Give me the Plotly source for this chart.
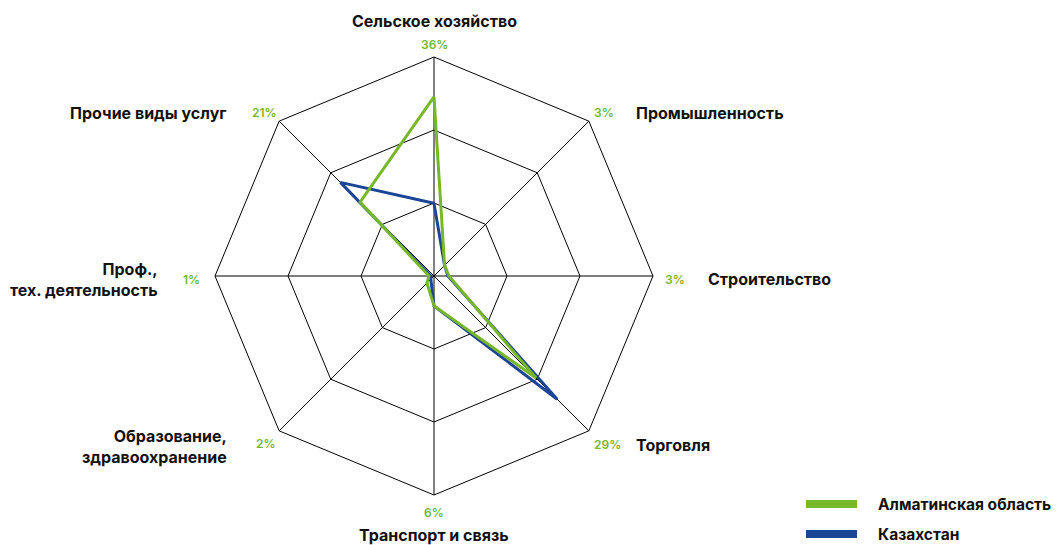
import plotly.graph_objects as go

# Sector names, clockwise from the top
categories = [
    "Сельское хозяйство",
    "Промышленность",
    "Строительство",
    "Торговля",
    "Транспорт и связь",
    "Образование,<br>здравоохранение",
    "Проф.,<br>тех. деятельность",
    "Прочие виды услуг",
]

# Share of each sector, %
almaty_values = [36, 3, 3, 29, 6, 2, 1, 21]
kazakhstan_values = [14.6, 3, 2.8, 35, 6, 0.9, 0.6, 26.6]

series_names = ["Алматинская область", "Казахстан"]

GREEN = "#77b82a"
BLUE = "#1c4596"
FONT = "Inter"

W, H = 1056, 545
R_MAX = 44

# pixel geometry of the radar (centre and outer radius)
CX, CY, RAD = 434, 276, 219


def paper(x, y):
    return x / W, 1 - y / H


def closed(seq):
    return list(seq) + [seq[0]]


fig = go.Figure()

fig.add_trace(go.Scatterpolar(
    r=closed(kazakhstan_values), theta=closed(categories),
    mode="lines", line=dict(color=BLUE, width=3),
    name=series_names[1], showlegend=False, hoverinfo="skip", cliponaxis=False,
))
fig.add_trace(go.Scatterpolar(
    r=closed(almaty_values), theta=closed(categories),
    mode="lines", line=dict(color=GREEN, width=3),
    name=series_names[0], showlegend=False, hoverinfo="skip", cliponaxis=False,
))

annotations = []

# category names: (pixel x, pixel y, x anchor)
name_pos = [
    (434, 21, "center"),
    (634, 113, "left"),
    (706, 279, "left"),
    (634, 445, "left"),
    (434, 535, "center"),
    (229, 446, "right"),
    (160, 279, "right"),
    (229, 113, "right"),
]
for cat, (px, py, xa) in zip(categories, name_pos):
    x, y = paper(px, py)
    annotations.append(dict(
        x=x, y=y, xref="paper", yref="paper", text=f"<b>{cat}</b>",
        showarrow=False, xanchor=xa, yanchor="middle", align=xa,
        font=dict(family=FONT, size=16, color="#111111"),
    ))

# percentage labels for the region at each vertex
pct_pos = [
    (434, 45), (604, 113), (675, 279), (607, 444),
    (434, 512), (266, 443), (191, 279), (264, 113),
]
for v, (px, py) in zip(almaty_values, pct_pos):
    x, y = paper(px, py)
    annotations.append(dict(
        x=x, y=y, xref="paper", yref="paper", text=f"{v}%",
        showarrow=False, xanchor="center", yanchor="middle",
        font=dict(family=FONT, size=12, color=GREEN, weight=600),
    ))

# legend
shapes = []
legend_rows = [(series_names[0], GREEN, 504), (series_names[1], BLUE, 534)]
for name, color, py in legend_rows:
    x0, y0 = paper(806, py)
    x1, _ = paper(857, py)
    shapes.append(dict(type="line", xref="paper", yref="paper",
                       x0=x0, x1=x1, y0=y0, y1=y0,
                       line=dict(color=color, width=8)))
    tx, ty = paper(876, py)
    annotations.append(dict(
        x=tx, y=ty, xref="paper", yref="paper", text=f"<b>{name}</b>",
        showarrow=False, xanchor="left", yanchor="middle",
        font=dict(family=FONT, size=15.5, color="#111111"),
    ))

dx0, dy1 = paper(CX - RAD, CY - RAD)
dx1, dy0 = paper(CX + RAD, CY + RAD)

fig.update_layout(
    width=W, height=H,
    margin=dict(l=0, r=0, t=0, b=0),
    paper_bgcolor="white",
    plot_bgcolor="white",
    showlegend=False,
    annotations=annotations,
    shapes=shapes,
    polar=dict(
        domain=dict(x=[dx0, dx1], y=[dy0, dy1]),
        bgcolor="white",
        gridshape="linear",
        angularaxis=dict(
            direction="clockwise", rotation=90,
            showticklabels=False, ticks="",
            showline=True, linecolor="black", linewidth=1,
            showgrid=True, gridcolor="black", gridwidth=1,
        ),
        radialaxis=dict(
            range=[0, R_MAX],
            tickvals=[R_MAX / 3, 2 * R_MAX / 3, R_MAX],
            showticklabels=False, ticks="",
            showline=False,
            showgrid=True, gridcolor="black", gridwidth=1,
        ),
    ),
)

fig.write_html("out.html")
